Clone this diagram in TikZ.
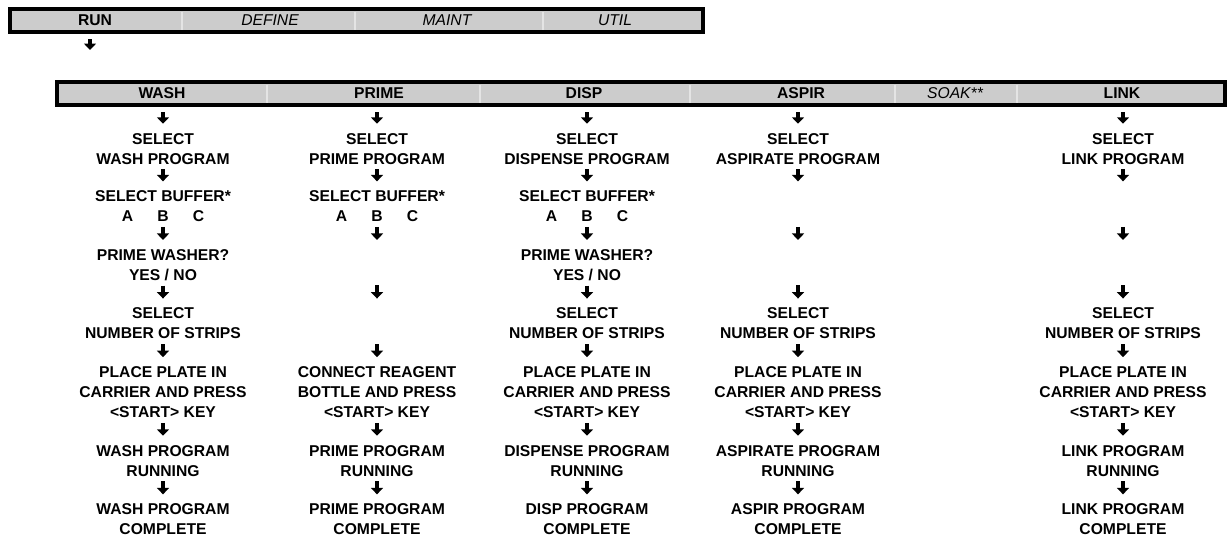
\documentclass[tikz,border=0pt]{standalone}
\usepackage{fontspec}
\setmainfont{Liberation Sans}
\usetikzlibrary{arrows.meta}
\definecolor{grisBarre}{RGB}{204,204,204}
\definecolor{grisTrait}{RGB}{228,228,228}

\begin{document}
\begin{tikzpicture}[x=0.6pt,y=-0.6pt,
  barre/.style={rectangle,draw=black,line width=2.4pt,fill=grisBarre,inner sep=0pt},
  separ/.style={grisTrait,line width=0.8pt},
  onglet/.style={inner sep=0pt,font=\fontsize{9.4}{12}\selectfont},
  etape/.style={align=center,anchor=north,inner sep=0pt,text depth=0pt,
                font=\fontsize{9.4}{12}\selectfont\bfseries},
  fleche/.style={-{Triangle[width=7.2pt,length=3.9pt]},line width=2.4pt,
                 shorten <=3pt,shorten >=5.4pt}]

  \useasboundingbox (0,0) rectangle (1229,538);

  % barre de menu principale
  \node[barre,minimum width=415.8pt,minimum height=13.8pt] (menu) at (356.5,20.5) {};
  \foreach \x in {182,355,543} \draw[separ] (\x,11.5) -- (\x,29.5);
  \node[onglet] (run) at (95,20.5) {\bfseries RUN};
  \node[onglet] (define) at (270,20.5) {\itshape DEFINE};
  \node[onglet] (maint) at (447,20.5) {\itshape MAINT};
  \node[onglet] (util) at (615,20.5) {\itshape UTIL};
  \coordinate (runfin) at (90,50);
  \draw[fleche,shorten >=0pt] (menu.south -| runfin) -- (runfin);

  % barre des programmes
  \node[barre,minimum width=700.8pt,minimum height=13.8pt] (prog) at (641,93.5) {};
  \foreach \x in {267,480,690,895,1017} \draw[separ] (\x,84.5) -- (\x,102.5);
  \node[onglet] (wash) at (162,93.5) {\bfseries WASH};
  \node[onglet] (prime) at (379,93.5) {\bfseries PRIME};
  \node[onglet] (disp) at (584,93.5) {\bfseries DISP};
  \node[onglet] (aspir) at (801,93.5) {\bfseries ASPIR};
  \node[onglet] (soak) at (955,93.5) {\itshape SOAK**};
  \node[onglet] (link) at (1122,93.5) {\bfseries LINK};

  % colonne WASH
  \node[etape] (wash1) at (163,132.75) {SELECT\\WASH PROGRAM};
  \node[etape] (wash2) at (163,190.35) {SELECT BUFFER*\\A\hspace{14.5pt}B\hspace{14.5pt}C};
  \node[etape] (wash3) at (163,248.95) {PRIME WASHER?\\YES / NO};
  \node[etape] (wash4) at (163,307.55) {SELECT\\NUMBER OF STRIPS};
  \node[etape] (wash5) at (163,366.15) {PLACE PLATE IN\\CARRIER AND PRESS\\<START> KEY};
  \node[etape] (wash6) at (163,444.75) {WASH PROGRAM\\RUNNING};
  \node[etape] (wash7) at (163,503.35) {WASH PROGRAM\\COMPLETE};

  % colonne PRIME
  \node[etape] (prime1) at (377,132.75) {SELECT\\PRIME PROGRAM};
  \node[etape] (prime2) at (377,190.35) {SELECT BUFFER*\\A\hspace{14.5pt}B\hspace{14.5pt}C};
  \coordinate (prime3h) at (377,248.95);
  \coordinate (prime3b) at (377,280.45);
  \coordinate (prime4h) at (377,307.55);
  \coordinate (prime4b) at (377,339.05);
  \node[etape] (prime5) at (377,366.15) {CONNECT REAGENT\\BOTTLE AND PRESS\\<START> KEY};
  \node[etape] (prime6) at (377,444.75) {PRIME PROGRAM\\RUNNING};
  \node[etape] (prime7) at (377,503.35) {PRIME PROGRAM\\COMPLETE};

  % colonne DISP
  \node[etape] (disp1) at (587,132.75) {SELECT\\DISPENSE PROGRAM};
  \node[etape] (disp2) at (587,190.35) {SELECT BUFFER*\\A\hspace{14.5pt}B\hspace{14.5pt}C};
  \node[etape] (disp3) at (587,248.95) {PRIME WASHER?\\YES / NO};
  \node[etape] (disp4) at (587,307.55) {SELECT\\NUMBER OF STRIPS};
  \node[etape] (disp5) at (587,366.15) {PLACE PLATE IN\\CARRIER AND PRESS\\<START> KEY};
  \node[etape] (disp6) at (587,444.75) {DISPENSE PROGRAM\\RUNNING};
  \node[etape] (disp7) at (587,503.35) {DISP PROGRAM\\COMPLETE};

  % colonne ASPIR
  \node[etape] (aspir1) at (798,132.75) {SELECT\\ASPIRATE PROGRAM};
  \coordinate (aspir2h) at (798,190.35);
  \coordinate (aspir2b) at (798,221.85);
  \coordinate (aspir3h) at (798,248.95);
  \coordinate (aspir3b) at (798,280.45);
  \node[etape] (aspir4) at (798,307.55) {SELECT\\NUMBER OF STRIPS};
  \node[etape] (aspir5) at (798,366.15) {PLACE PLATE IN\\CARRIER AND PRESS\\<START> KEY};
  \node[etape] (aspir6) at (798,444.75) {ASPIRATE PROGRAM\\RUNNING};
  \node[etape] (aspir7) at (798,503.35) {ASPIR PROGRAM\\COMPLETE};

  % colonne LINK
  \node[etape] (link1) at (1123,132.75) {SELECT\\LINK PROGRAM};
  \coordinate (link2h) at (1123,190.35);
  \coordinate (link2b) at (1123,221.85);
  \coordinate (link3h) at (1123,248.95);
  \coordinate (link3b) at (1123,280.45);
  \node[etape] (link4) at (1123,307.55) {SELECT\\NUMBER OF STRIPS};
  \node[etape] (link5) at (1123,366.15) {PLACE PLATE IN\\CARRIER AND PRESS\\<START> KEY};
  \node[etape] (link6) at (1123,444.75) {LINK PROGRAM\\RUNNING};
  \node[etape] (link7) at (1123,503.35) {LINK PROGRAM\\COMPLETE};

  % fleches
  \foreach \c in {wash,prime,disp,aspir,link}
    \draw[fleche] (prog.south -| \c1) -- (\c1.north);
  \foreach \c in {wash,disp}
    \foreach \i/\j in {1/2,2/3,3/4,4/5,5/6,6/7}
      \draw[fleche] (\c\i.south) -- (\c\j.north);
  \foreach \a/\b in {prime1.south/prime2.north,prime2.south/prime3h,
                     prime3b/prime4h,prime4b/prime5.north,
                     prime5.south/prime6.north,prime6.south/prime7.north}
    \draw[fleche] (\a) -- (\b);
  \foreach \c in {aspir,link}{
    \draw[fleche] (\c1.south) -- (\c2h);
    \draw[fleche] (\c2b) -- (\c3h);
    \draw[fleche] (\c3b) -- (\c4.north);
    \foreach \i/\j in {4/5,5/6,6/7}
      \draw[fleche] (\c\i.south) -- (\c\j.north);
  }
\end{tikzpicture}
\end{document}
